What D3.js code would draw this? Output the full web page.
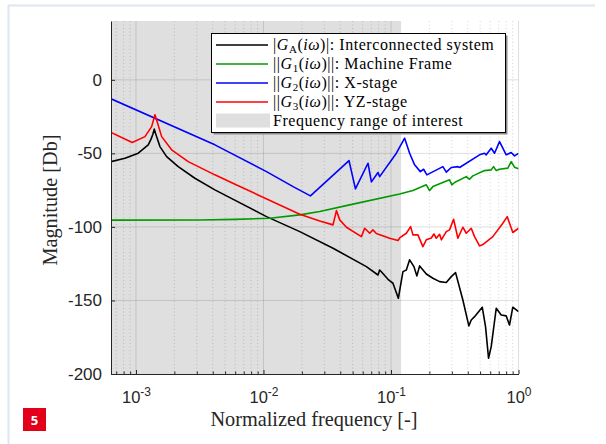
<!DOCTYPE html>
<html><head><meta charset="utf-8">
<script src="https://cdn.jsdelivr.net/npm/d3@7/dist/d3.min.js"></script>
<style>body{margin:0;background:#fff;} svg{display:block}</style>
</head><body><svg id="c" width="606" height="444"></svg>
<script>
// ---------- data ----------
const xTicks = [1e-3, 1e-2, 1e-1, 1];
const xTickExp = ["-3", "-2", "-1", "0"];
const yTicks = [-200, -150, -100, -50, 0];
const xDomain = [6.37e-4, 1];
const yDomain = [-200, 40];
const bandRange = [6.37e-4, 0.12];

const fA = [6.37e-4, 8.2e-4, 1.042e-3, 1.248e-3, 1.31e-3, 1.355e-3, 1.391e-3, 1.425e-3, 1.47e-3, 1.542e-3, 1.74e-3, 2.145e-3, 2.898e-3, 4.157e-3, 1.056e-2, 1.926e-2, 3.512e-2, 6.41e-2, 7.91e-2, 8.15e-2, 8.4e-2, 9.47e-2, 0.1036, 0.1142, 0.1241, 0.1319, 0.140, 0.1513, 0.1597, 0.1677, 0.1892, 0.2132, 0.2405, 0.2714, 0.2971, 0.3209, 0.3662, 0.4079, 0.4260, 0.4522, 0.5196, 0.5514, 0.5821, 0.6111, 0.6689, 0.7320, 0.8010, 0.8500, 0.9023, 1.0];
const magA = [-55.6, -53.3, -49.9, -44.2, -40.5, -37.2, -33.5, -36.5, -40, -45.4, -52.2, -59, -66.9, -74.8, -93, -103.2, -114.5, -127, -132.7, -129.3, -130.5, -135.6, -138.3, -148.5, -130.4, -129.3, -122.4, -127, -133.3, -126.5, -132, -134.9, -137.2, -137.8, -133.8, -131.1, -149.7, -167.3, -163.3, -161, -154.6, -167.8, -189.3, -181.4, -155.3, -159.9, -160.5, -166.7, -154.6, -157.6];

const f1 = [6.37e-4, 3.17e-3, 6e-3, 1.121e-2, 1.926e-2, 2.762e-2, 4.74e-2, 0.1169, 0.1486, 0.1892, 0.2008, 0.2132, 0.2880, 0.3003, 0.3152, 0.3893, 0.4131, 0.4385, 0.5416, 0.6111, 0.637, 0.6689, 0.71, 0.8244, 0.8764, 0.9303, 1.0];
const mag1 = [-95.4, -95.3, -94.9, -94.1, -91.8, -89.5, -85, -77.6, -75.3, -71.4, -75.3, -72.6, -68, -71.4, -69.8, -65.8, -67.6, -65.3, -61.7, -61.2, -59, -61.7, -60.8, -60, -55.6, -59.4, -60.5];

const f2 = [6.37e-4, 4.157e-3, 1.056e-2, 1.707e-2, 2.335e-2, 4.686e-2, 5.26e-2, 6.60e-2, 7.02e-2, 7.91e-2, 8.15e-2, 0.1102, 0.1279, 0.140, 0.1532, 0.1698, 0.1802, 0.1912, 0.2553, 0.2714, 0.2971, 0.3346, 0.3450, 0.4949, 0.5416, 0.5585, 0.6111, 0.6486, 0.7099, 0.8010, 0.8764, 0.9303, 1.0];
const mag2 = [-12.9, -44.2, -62.4, -72.6, -78.9, -54.9, -74.1, -56.7, -69.4, -63, -65.8, -49.9, -39.7, -49.9, -57.8, -62.4, -60.8, -64.6, -59, -62.8, -59.6, -59, -59.6, -51, -49.9, -51, -46.5, -49.9, -42, -51, -49.4, -51.7, -50];

const f3 = [6.37e-4, 9.35e-4, 1.176e-3, 1.327e-3, 1.409e-3, 1.479e-3, 1.59e-3, 1.904e-3, 2.569e-3, 4.157e-3, 5.75e-3, 1.926e-2, 2.762e-2, 3.512e-2, 3.733e-2, 3.962e-2, 4.472e-2, 5.86e-2, 6.22e-2, 6.81e-2, 7.22e-2, 7.68e-2, 9.76e-2, 0.1134, 0.1169, 0.1319, 0.1426, 0.1486, 0.1626, 0.1779, 0.1892, 0.2071, 0.2170, 0.2266, 0.2405, 0.2483, 0.2714, 0.2880, 0.3097, 0.3346, 0.3662, 0.3893, 0.4260, 0.4522, 0.4949, 0.525, 0.6290, 0.7534, 0.8155, 0.9023, 1.0];
const mag3 = [-35.8, -42.6, -38.6, -31.8, -23.8, -29.5, -38.6, -47.6, -55.6, -64.6, -70.3, -91.4, -96, -98.6, -88.9, -95.2, -100.2, -106.6, -100.9, -104.3, -102, -104.5, -107.7, -109.3, -107.5, -104.3, -99.8, -105.4, -105.4, -113.4, -108.8, -107.5, -104.8, -107.7, -105, -108.8, -103.2, -102, -94.8, -107.7, -100.2, -104.3, -100.9, -106.6, -112.9, -112, -106.6, -97.5, -93, -103.8, -100.9];

const seriesColors = ["#000000", "#009a00", "#0000ff", "#ff0000"];
const legendBars = ["|", "||", "||", "||"];
const legendSub = ["A", "1", "2", "3"];
const legendText = ["Interconnected system", "Machine Frame", "X-stage", "YZ-stage"];
const bandLabel = "Frequency range of interest";
const xLabel = "Normalized frequency [-]";
const yLabel = "Magnitude [Db]";
const badgeText = "5";

// ---------- drawing ----------
const svg = d3.select("#c");
const L = 111, R = 518.5, T = 21, B = 374;
const x = d3.scaleLog().domain(xDomain).range([L, R]);
const y = d3.scaleLinear().domain(yDomain).range([B, T]);
const axisCol = "#262626";
const serif = "'Liberation Serif', 'Times New Roman', serif";
const sans = "'Liberation Sans', Arial, sans-serif";

// page frame
svg.append("line").attr("x1", 8.5).attr("x2", 8.5).attr("y1", 5).attr("y2", 444).attr("stroke", "#dde6f1").attr("stroke-width", 2);
svg.append("line").attr("x1", 8).attr("x2", 595).attr("y1", 5.5).attr("y2", 5.5).attr("stroke", "#dde6f1").attr("stroke-width", 2);

// grey band
svg.append("rect").attr("x", x(bandRange[0])).attr("y", T)
  .attr("width", x(bandRange[1]) - x(bandRange[0])).attr("height", B - T)
  .attr("fill", "#dfdfdf");

// minor x values
const minor = [];
for (let e = -4; e <= 0; e++) for (let k = 2; k <= 9; k++) {
  const v = k * Math.pow(10, e);
  if (v > xDomain[0] && v < xDomain[1]) minor.push(v);
}
const grid = svg.append("g");
grid.selectAll(".mg").data(minor).join("line")
  .attr("x1", d => x(d)).attr("x2", d => x(d)).attr("y1", T).attr("y2", B)
  .attr("stroke", axisCol).attr("stroke-opacity", 0.25).attr("stroke-dasharray", "1,2.5").attr("stroke-width", 0.8);
grid.selectAll(".Mx").data(xTicks).join("line")
  .attr("x1", d => x(d)).attr("x2", d => x(d)).attr("y1", T).attr("y2", B)
  .attr("stroke", axisCol).attr("stroke-opacity", 0.15).attr("stroke-width", 1);
grid.selectAll(".My").data(yTicks.filter(d => d > yDomain[0])).join("line")
  .attr("x1", L).attr("x2", R).attr("y1", d => y(d)).attr("y2", d => y(d))
  .attr("stroke", axisCol).attr("stroke-opacity", 0.15).attr("stroke-width", 1);

// curves
const defs = svg.append("defs");
defs.append("clipPath").attr("id", "clip").append("rect").attr("x", L).attr("y", T).attr("width", R - L).attr("height", B - T);
const line = d3.line().x(d => x(d[0])).y(d => y(d[1]));
const series = [[fA, magA], [f1, mag1], [f2, mag2], [f3, mag3]];
const cg = svg.append("g").attr("clip-path", "url(#clip)");
series.forEach((s, i) => {
  cg.append("path").datum(d3.zip(s[0], s[1]))
    .attr("d", line).attr("fill", "none").attr("stroke", seriesColors[i])
    .attr("stroke-width", 1.6).attr("stroke-linejoin", "round");
});

// axes
const xAxis = svg.append("g").attr("transform", `translate(0,${B})`)
  .call(d3.axisBottom(x).tickValues(xTicks).tickSizeInner(-4).tickSizeOuter(0).tickFormat(() => ""));
const xMinorAxis = svg.append("g").attr("transform", `translate(0,${B})`)
  .call(d3.axisBottom(x).tickValues(minor).tickSizeInner(-2.5).tickSizeOuter(0).tickFormat(() => ""));
xMinorAxis.select(".domain").remove();
const yAxis = svg.append("g").attr("transform", `translate(${L},0)`)
  .call(d3.axisLeft(y).tickValues(yTicks).tickSizeInner(-4).tickSizeOuter(0).tickPadding(9).tickFormat(d => String(d)));
[xAxis, xMinorAxis, yAxis].forEach(g => {
  g.selectAll("path,line").attr("stroke", axisCol);
});
yAxis.selectAll("text").attr("font-family", sans).attr("font-size", 17).attr("fill", axisCol);

// x tick labels 10^n
xAxis.selectAll(".tick").each(function (d, i) {
  const t = d3.select(this).select("text").attr("font-family", sans).attr("fill", axisCol)
    .attr("y", 0).attr("dy", 0).attr("transform", "translate(0,29)").attr("text-anchor", "middle");
  t.text(null);
  t.append("tspan").attr("font-size", 16.5).text("10");
  t.append("tspan").attr("font-size", 12).attr("dy", -7).text(xTickExp[i]);
});

// axis labels
svg.append("text").attr("x", 314).attr("y", 426).attr("text-anchor", "middle")
  .attr("font-family", serif).attr("font-size", 20.3).attr("fill", axisCol).text(xLabel);
svg.append("text").attr("transform", "translate(57,200) rotate(-90)").attr("text-anchor", "middle")
  .attr("font-family", serif).attr("font-size", 20.3).attr("fill", axisCol).text(yLabel);

// legend
const lg = svg.append("g");
lg.append("rect").attr("x", 213.5).attr("y", 35.5).attr("width", 294).attr("height", 99).attr("fill", "#8a8a8a");
lg.append("rect").attr("x", 211.5).attr("y", 33.5).attr("width", 294).attr("height", 99).attr("fill", "#fff").attr("stroke", "#000").attr("stroke-width", 1);
const rowY = [45, 64, 83, 102, 120.5];
legendText.forEach((lab, i) => {
  lg.append("line").attr("x1", 216).attr("x2", 268).attr("y1", rowY[i]).attr("y2", rowY[i])
    .attr("stroke", seriesColors[i]).attr("stroke-width", 1.6);
  const t = lg.append("text").attr("x", 273).attr("y", rowY[i] + 5)
    .attr("font-family", serif).attr("font-size", 16).attr("letter-spacing", 0.55).attr("fill", "#000");
  t.append("tspan").text(legendBars[i]);
  t.append("tspan").attr("font-style", "italic").text("G");
  t.append("tspan").attr("font-size", 11).attr("dy", 3).text(legendSub[i]);
  t.append("tspan").attr("dy", -3).text("(");
  t.append("tspan").attr("font-style", "italic").text("iω");
  t.append("tspan").text(")" + legendBars[i] + ": " + lab);
});
lg.append("rect").attr("x", 216).attr("y", 113.5).attr("width", 54).attr("height", 14).attr("fill", "#dfdfdf");
lg.append("text").attr("x", 273).attr("y", rowY[4] + 5).attr("font-family", serif).attr("font-size", 16)
  .attr("letter-spacing", 0.55).attr("fill", "#000").text(bandLabel);

// badge
svg.append("rect").attr("x", 23).attr("y", 408).attr("width", 23).attr("height", 23).attr("fill", "#e3001b");
svg.append("text").attr("x", 34.5).attr("y", 424.5).attr("text-anchor", "middle")
  .attr("font-family", "'Open Sans', sans-serif").attr("font-weight", "bold").attr("font-size", 13).attr("fill", "#fff").text(badgeText);
</script>
</body></html>
